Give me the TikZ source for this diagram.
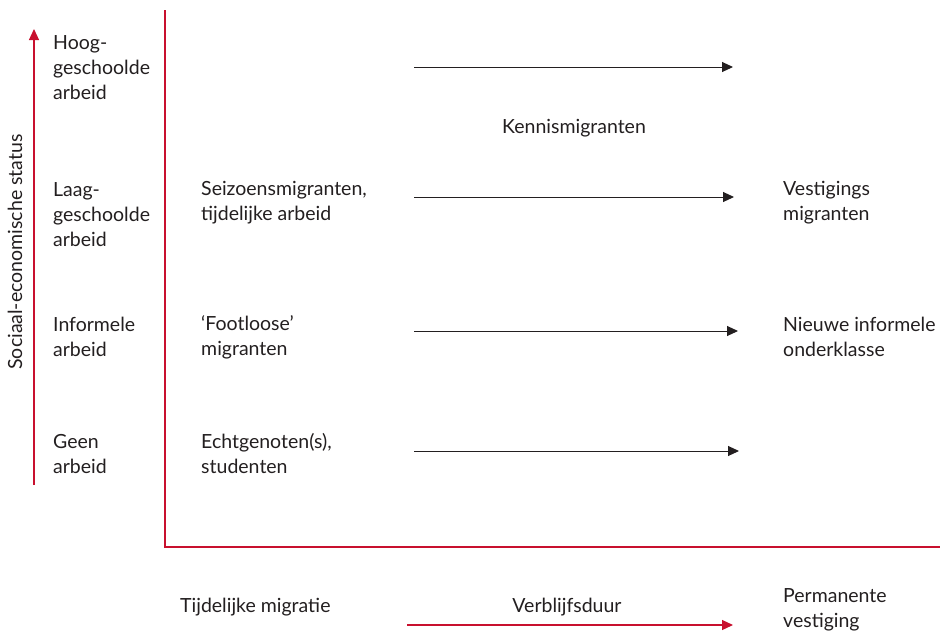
\documentclass[tikz,border=0pt]{standalone}
\usepackage{fontspec}
\setmainfont{Lato}
\usetikzlibrary{arrows.meta}
\definecolor{axred}{HTML}{C8102E}
\definecolor{txt}{HTML}{231F20}
\begin{document}
\begin{tikzpicture}[x=1pt,y=-1pt,
  lbl/.style={anchor=west,inner sep=0pt,align=left,text=txt,font=\fontsize{19.5}{25}\selectfont},
  ctr/.style={inner sep=0pt,text=txt,font=\fontsize{19.5}{25}\selectfont},
  axis/.style={draw=axred,line width=1.2pt},
  redarrow/.style={draw=axred,line width=1.2pt,-{Triangle[length=11pt,width=10pt]}},
  blkarrow/.style={draw=txt,line width=1pt,-{Triangle[length=11pt,width=10pt]}}]
\useasboundingbox (0,0) rectangle (940,633);
% axes
\coordinate (ytop) at (165,10);
\coordinate (orig) at (165,547);
\coordinate (xend) at (940,547);
\draw[axis] (ytop) -- (orig) -- (xend);
% left red arrow
\coordinate (sa) at (34,485);
\coordinate (sb) at (34,29);
\draw[redarrow] (sa) -- (sb);
\node[ctr,rotate=90] (status) at (15,252) {Sociaal-economische status};
% row labels
\node[lbl] (hoog) at (53,68) {Hoog-\\geschoolde\\arbeid};
\node[lbl] (laag) at (53,215) {Laag-\\geschoolde\\arbeid};
\node[lbl] (inf) at (53,337) {Informele\\arbeid};
\node[lbl] (geen) at (53,454) {Geen\\arbeid};
% middle labels
\node[lbl] (seiz) at (201,203) {Seizoensmigranten,\\tijdelijke arbeid};
\node[lbl] (foot) at (201,337) {‘Footloose’\\migranten};
\node[lbl] (echt) at (201,454) {Echtgenoten(s),\\studenten};
\node[ctr] (kennis) at (574,128) {Kennismigranten};
% right labels
\node[lbl] (vest) at (783,203) {Vestigings\\migranten};
\node[lbl] (nieuw) at (783,337) {Nieuwe informele\\onderklasse};
% black arrows
\coordinate (a1s) at (414,67); \coordinate (a1e) at (733,67);
\coordinate (a2s) at (414,197); \coordinate (a2e) at (734,197);
\coordinate (a3s) at (414,331); \coordinate (a3e) at (738,331);
\coordinate (a4s) at (414,451); \coordinate (a4e) at (739,451);
\draw[blkarrow] (a1s) -- (a1e);
\draw[blkarrow] (a2s) -- (a2e);
\draw[blkarrow] (a3s) -- (a3e);
\draw[blkarrow] (a4s) -- (a4e);
% bottom
\node[lbl] (tijd) at (180,607) {Tijdelijke migratie};
\node[ctr] (verbl) at (567,607) {Verblijfsduur};
\node[lbl] (perm) at (783,610) {Permanente\\vestiging};
\coordinate (ba) at (407,625); \coordinate (bb) at (733,625);
\draw[redarrow] (ba) -- (bb);
\end{tikzpicture}
\end{document}
